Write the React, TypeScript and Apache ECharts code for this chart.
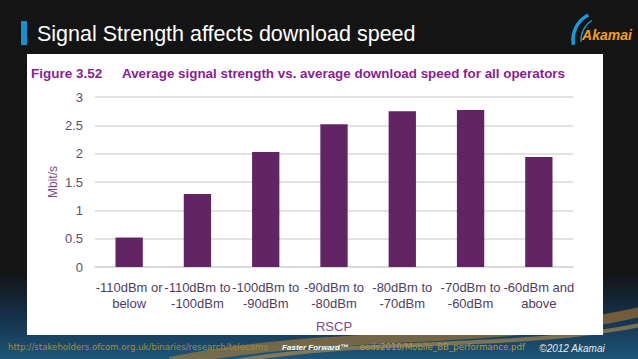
import React, { useEffect, useRef } from "react";
import * as echarts from "echarts";

const categories = [
  "-110dBm or\nbelow",
  "-110dBm to\n-100dBm",
  "-100dBm to\n-90dBm",
  "-90dBm to\n-80dBm",
  "-80dBm to\n-70dBm",
  "-70dBm to\n-60dBm",
  "-60dBm and\nabove",
];
const speeds = [0.52, 1.29, 2.03, 2.52, 2.75, 2.77, 1.94];
const yMin = 0;
const yMax = 3;
const yStep = 0.5;

const slideTitle = "Signal Strength affects download speed";
const figureLabel = "Figure 3.52";
const figureTitle = "Average signal strength vs. average download speed for all operators";
const yName = "Mbit/s";
const xName = "RSCP";
const sourceUrlLeft = "http://stakeholders.ofcom.org.uk/binaries/research/telecoms";
const sourceUrlRight = "eeds2010/Mobile_BB_performance.pdf";
const tagline = "Faster Forward™";
const copyright = "©2012 Akamai";

export default function App() {
  const ref = useRef<HTMLDivElement>(null);
  useEffect(() => {
    document.body.style.margin = "0";
    const chart = echarts.init(ref.current!, undefined, { renderer: "svg" });
    const font = "Liberation Sans, Arial, sans-serif";
    chart.setOption({
      animation: false,
      backgroundColor: "transparent",
      grid: { left: 95, right: 65, top: 97, bottom: 92, containLabel: false },
      xAxis: {
        type: "category",
        data: categories,
        name: xName,
        nameLocation: "middle",
        nameGap: 53,
        nameTextStyle: { color: "#7a4a88", fontSize: 13, fontFamily: font },
        axisLine: { show: true, lineStyle: { color: "#d9d9d9", width: 1.5 } },
        axisTick: { show: false },
        axisLabel: {
          interval: 0,
          color: "#4e3e5e",
          fontSize: 13,
          lineHeight: 16,
          margin: 12,
          fontFamily: font,
        },
      },
      yAxis: {
        type: "value",
        min: yMin,
        max: yMax,
        interval: yStep,
        axisLine: { show: false },
        axisTick: { show: false },
        axisLabel: { color: "#5e4e6e", fontSize: 13, margin: 12, fontFamily: font },
        splitLine: { lineStyle: { color: "#d9d9d9", width: 1.5 } },
      },
      series: [
        {
          type: "bar",
          data: speeds,
          barWidth: "40%",
          itemStyle: { color: "#622462" },
        },
      ],
      graphic: [
        {
          type: "rect",
          z: -30,
          shape: { x: 0, y: 0, width: 638, height: 359 },
          style: {
            fill: new echarts.graphic.LinearGradient(0, 0, 0, 1, [
              { offset: 0, color: "#141414" },
              { offset: 0.76, color: "#141414" },
              { offset: 0.88, color: "#15304a" },
              { offset: 1, color: "#1d5678" },
            ]),
          },
        },
        {
          type: "bezierCurve",
          z: -25,
          shape: { x1: 170, y1: 362, cpx1: 320, cpy1: 330, cpx2: 500, cpy2: 345, x2: 640, y2: 312 },
          style: { stroke: "rgba(190,130,50,0.55)", lineWidth: 10, fill: null },
        },
        {
          type: "bezierCurve",
          z: -24,
          shape: { x1: 230, y1: 362, cpx1: 360, cpy1: 338, cpx2: 520, cpy2: 350, x2: 640, y2: 325 },
          style: { stroke: "rgba(220,160,70,0.5)", lineWidth: 4, fill: null },
        },
        {
          type: "rect",
          z: -20,
          shape: { x: 27, y: 54, width: 576, height: 281 },
          style: { fill: "#ffffff" },
        },
        {
          type: "text",
          z: 50,
          x: 53,
          y: 182,
          rotation: Math.PI / 2,
          style: {
            text: yName,
            fill: "#7a4a88",
            font: `12px ${font}`,
            textAlign: "center",
            textVerticalAlign: "middle",
          },
        },
        {
          type: "rect",
          z: 50,
          shape: { x: 21, y: 21, width: 6, height: 24 },
          style: { fill: "#1a8fd0" },
        },
        {
          type: "text",
          z: 50,
          x: 37,
          y: 34,
          style: {
            text: slideTitle,
            fill: "#ffffff",
            font: `21.5px ${font}`,
            textVerticalAlign: "middle",
          },
        },
        {
          type: "arc",
          z: 50,
          shape: { cx: 601, cy: 40, r: 28, startAngle: (170 * Math.PI) / 180, endAngle: (243 * Math.PI) / 180, clockwise: true },
          style: { stroke: "#1a9ad6", lineWidth: 3.5, fill: null },
        },
        {
          type: "arc",
          z: 50,
          shape: { cx: 604, cy: 40, r: 23, startAngle: (175 * Math.PI) / 180, endAngle: (238 * Math.PI) / 180, clockwise: true },
          style: { stroke: "#1a9ad6", lineWidth: 1.3, fill: null },
        },
        {
          type: "text",
          z: 50,
          x: 607,
          y: 35,
          style: {
            text: "Akamai",
            fill: "#f0a020",
            font: `italic bold 14px ${font}`,
            textAlign: "center",
            textVerticalAlign: "middle",
          },
        },
        {
          type: "text",
          z: 50,
          x: 31,
          y: 73,
          style: {
            text: figureLabel,
            fill: "#8a1e8e",
            font: `bold 13.5px ${font}`,
            textVerticalAlign: "middle",
          },
        },
        {
          type: "text",
          z: 50,
          x: 122,
          y: 73,
          style: {
            text: figureTitle,
            fill: "#8a1e8e",
            font: `bold 13.4px ${font}`,
            textVerticalAlign: "middle",
          },
        },
        {
          type: "text",
          z: 50,
          x: 8,
          y: 347,
          style: {
            text: sourceUrlLeft,
            fill: "#a08c3e",
            font: `8.6px DejaVu Sans, sans-serif`,
            textVerticalAlign: "middle",
          },
        },
        {
          type: "text",
          z: 50,
          x: 525,
          y: 347,
          style: {
            text: sourceUrlRight,
            fill: "#b09a48",
            font: `8.6px DejaVu Sans, sans-serif`,
            textAlign: "right",
            textVerticalAlign: "middle",
          },
        },
        {
          type: "text",
          z: 51,
          x: 315,
          y: 347,
          style: {
            text: tagline,
            fill: "#ffffff",
            font: `italic bold 8px ${font}`,
            textAlign: "center",
            textVerticalAlign: "middle",
          },
        },
        {
          type: "text",
          z: 50,
          x: 572,
          y: 348,
          style: {
            text: copyright,
            fill: "#e8e8e8",
            font: `italic 10px ${font}`,
            textAlign: "center",
            textVerticalAlign: "middle",
          },
        },
      ],
    });
    return () => chart.dispose();
  }, []);
  return (
    <div
      ref={ref}
      style={{ position: "absolute", left: 0, top: 0, width: 638, height: 359 }}
    />
  );
}
